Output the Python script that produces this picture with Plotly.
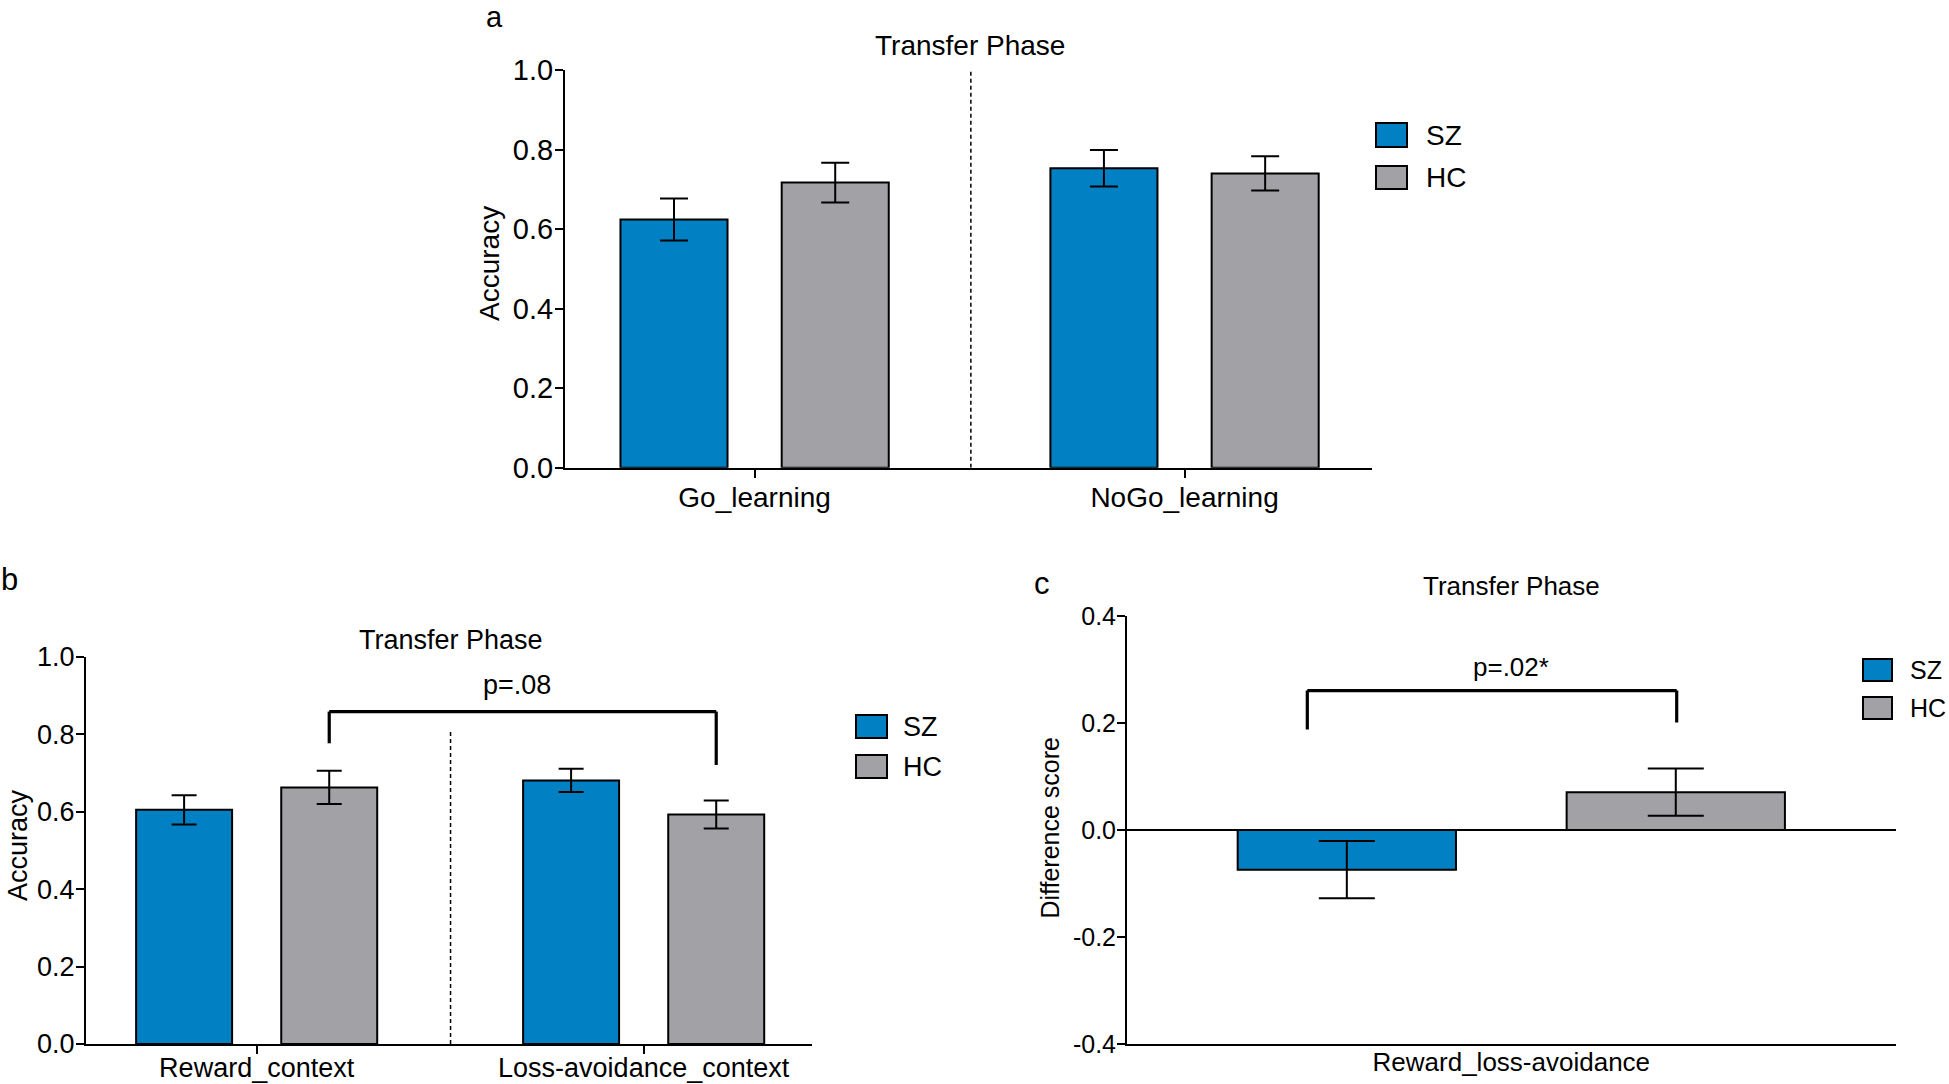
import plotly.graph_objects as go

W, H = 1949, 1084

# ---------------- data ----------------
groups = ["SZ", "HC"]

cats_a = ["Go_learning", "NoGo_learning"]
sz_a = [0.624, 0.753]
hc_a = [0.717, 0.740]
sz_a_err = [0.053, 0.046]
hc_a_err = [0.050, 0.043]

cats_b = ["Reward_context", "Loss-avoidance_context"]
sz_b = [0.605, 0.681]
hc_b = [0.663, 0.593]
sz_b_err = [0.038, 0.030]
hc_b_err = [0.043, 0.036]
p_b = "p=.08"
bracket_b = [0.777, 0.859, 0.721]   # left foot, top, right foot

cats_c = ["Reward_loss-avoidance"]
sz_c = [-0.074]
hc_c = [0.071]
sz_c_err = [0.0535]
hc_c_err = [0.044]
p_c = "p=.02*"
bracket_c = [0.188, 0.261, 0.201]

yticks_acc = [0.0, 0.2, 0.4, 0.6, 0.8, 1.0]
yticks_diff = [-0.4, -0.2, 0.0, 0.2, 0.4]

BLUE = "#0180C3"
GRAY = "#A2A1A6"
FONT = "Arial, Liberation Sans, Helvetica, sans-serif"


def px(x):
    return x / W


def py(y):
    return 1 - y / H


fig = go.Figure()


def add_pair(cats, sz, hc, sz_e, hc_e, xa, ya, half, width, cap):
    for name, vals, errs, col, c in [("SZ", sz, sz_e, BLUE, -half), ("HC", hc, hc_e, GRAY, half)]:
        fig.add_trace(go.Bar(
            x=cats, y=vals, name=name, showlegend=False,
            marker=dict(color=col, line=dict(color="black", width=2)),
            width=width, offset=c - width / 2,
            error_y=dict(type="data", array=errs, visible=True, color="black",
                         thickness=2, width=cap),
            xaxis=xa, yaxis=ya))


add_pair(cats_a, sz_a, hc_a, sz_a_err, hc_a_err, "x", "y", 0.1875, 0.249, 14)
add_pair(cats_b, sz_b, hc_b, sz_b_err, hc_b_err, "x2", "y2", 0.1875, 0.248, 12.5)
add_pair(cats_c, sz_c, hc_c, sz_c_err, hc_c_err, "x3", "y3", 0.214, 0.284, 28)


def xax(dom, rng, fs, ticks=True, standoff=-4):
    return dict(domain=dom, type="category", range=rng, showline=True, linecolor="black",
                linewidth=2, ticks="outside" if ticks else "", ticklen=8, tickwidth=2,
                tickcolor="black", showgrid=False, zeroline=False, automargin=False,
                ticklabelstandoff=standoff,
                tickfont=dict(family=FONT, size=fs, color="black"), fixedrange=True)


def yax(dom, rng, tv, fs, anchor):
    return dict(domain=dom, range=rng, tickvals=tv, ticktext=[f"{v:.1f}" for v in tv],
                showline=True, linecolor="black", linewidth=2, ticks="outside",
                ticklen=8, tickwidth=2, tickcolor="black", showgrid=False,
                zeroline=False, anchor=anchor, automargin=False, ticklabelstandoff=-4,
                tickfont=dict(family=FONT, size=fs, color="black"), fixedrange=True)


fig.update_layout(
    template="none",
    width=W, height=H, margin=dict(l=0, r=0, t=0, b=0, pad=0, autoexpand=False),
    paper_bgcolor="white", plot_bgcolor="white", showlegend=False,
    font=dict(family=FONT, color="black"),
    xaxis=dict(**xax([px(565), px(1372)], [-0.441, 1.436], 28, standoff=-4), anchor="y"),
    yaxis=yax([py(467.7), py(70)], [0, 1], yticks_acc, 29, "x"),
    xaxis2=dict(**xax([px(86), px(812)], [-0.441, 1.435], 27, standoff=-9), anchor="y2"),
    yaxis2=yax([py(1044), py(657)], [0, 1], yticks_acc, 27, "x2"),
    xaxis3=dict(**xax([px(1127), px(1895.6)], [-0.5, 0.5], 26, ticks=False, standoff=-6),
                anchor="y3"),
    yaxis3=yax([py(1044), py(616.2)], [-0.4, 0.4], yticks_diff, 25, "x3"),
)
fig.layout.yaxis3.zeroline = True
fig.layout.yaxis3.zerolinecolor = "black"
fig.layout.yaxis3.zerolinewidth = 2

shapes = []
# dashed separators
shapes.append(dict(type="line", xref="x", yref="y", x0=0.503, x1=0.503, y0=0, y1=1.0,
                   line=dict(color="black", width=1.5, dash="4px,3px")))
shapes.append(dict(type="line", xref="x2", yref="y2", x0=0.501, x1=0.501, y0=0, y1=0.809,
                   line=dict(color="black", width=1.5, dash="4px,3px")))


def bracket(xr, yr, xl, xrr, yvals):
    lf, top, rf = yvals
    ln = dict(color="black", width=3.2)
    return [
        dict(type="line", xref=xr, yref=yr, x0=xl, x1=xl, y0=lf, y1=top, line=ln),
        dict(type="line", xref=xr, yref=yr, x0=xl, x1=xrr, y0=top, y1=top, line=ln),
        dict(type="line", xref=xr, yref=yr, x0=xrr, x1=xrr, y0=top, y1=rf, line=ln),
    ]


shapes += bracket("x2", "y2", 0.1875, 1.1875, bracket_b)
shapes += bracket("x3", "y3", -0.2654, 0.2152, bracket_c)

annotations = []


def txt(x, y, s, size, **kw):
    annotations.append(dict(xref="paper", yref="paper", x=px(x), y=py(y), text=s,
                            showarrow=False, font=dict(family=FONT, size=size, color="black"),
                            **kw))


# legends (drawn manually)
def legend(x0, x1, boxes, tx, size):
    for (y0, y1), name, col in zip(boxes, groups, [BLUE, GRAY]):
        shapes.append(dict(type="rect", xref="paper", yref="paper", x0=px(x0), x1=px(x1),
                           y0=py(y1), y1=py(y0), fillcolor=col,
                           line=dict(color="black", width=2)))
        txt(tx, (y0 + y1) / 2, name, size, xanchor="left", yanchor="middle")


legend(1376, 1407, [(123, 147), (166, 189)], 1424, 28)
legend(856, 887, [(715, 738), (755, 778)], 901, 27)
legend(1863, 1892, [(659, 681), (697, 719)], 1908, 25)

# titles
txt(969.6, 46, "Transfer Phase", 28, xanchor="center", yanchor="middle")
txt(450.8, 640, "Transfer Phase", 27, xanchor="center", yanchor="middle")
txt(1511.7, 586, "Transfer Phase", 26, xanchor="center", yanchor="middle")

# panel letters
txt(494, 17, "a", 29, xanchor="center", yanchor="middle")
txt(9, 579, "b", 31, xanchor="center", yanchor="middle")
txt(1042, 583, "c", 31, xanchor="center", yanchor="middle")

# y-axis titles
txt(489, 263, "Accuracy", 28, xanchor="center", yanchor="middle", textangle=-90)
txt(18, 845, "Accuracy", 27, xanchor="center", yanchor="middle", textangle=-90)
txt(1049.6, 828, "Difference score", 25, xanchor="center", yanchor="middle", textangle=-90)

# p-values
annotations.append(dict(xref="x2", yref="y2", x=0.6716, y=0.928, text=p_b, showarrow=False,
                        font=dict(family=FONT, size=27, color="black"), yanchor="middle"))
annotations.append(dict(xref="x3", yref="y3", x=0.0, y=0.3057, text=p_c, showarrow=False,
                        font=dict(family=FONT, size=26, color="black"), yanchor="middle"))

fig.update_layout(shapes=shapes, annotations=annotations)
fig.write_html(
    "out.html",
    config={"displayModeBar": False},
    post_script="document.body.style.margin='0px';document.body.style.overflow='hidden';",
)
